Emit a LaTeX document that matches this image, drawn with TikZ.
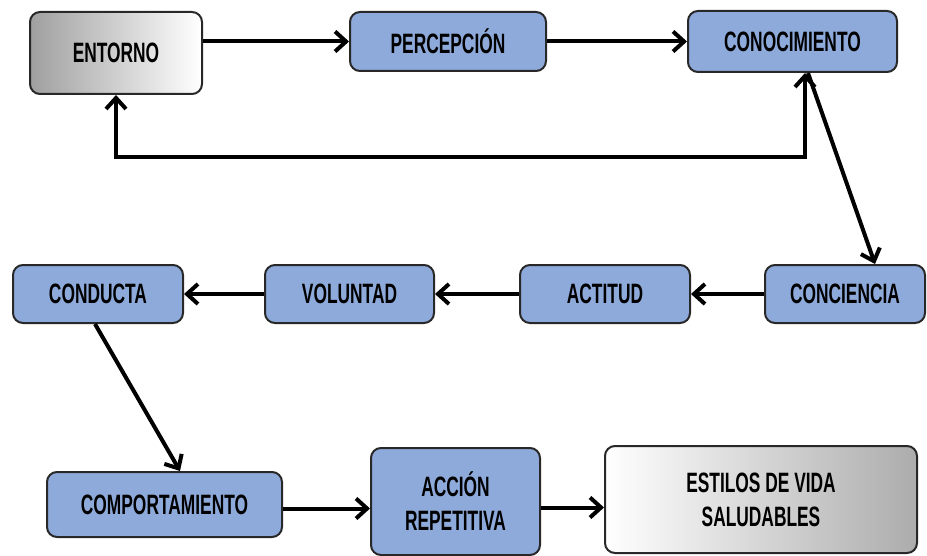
\documentclass[tikz,border=0pt]{standalone}
\usepackage{fontspec}
\setmainfont{Liberation Sans}[FakeStretch=0.62]
\usetikzlibrary{arrows.meta,calc}
\definecolor{BoxClr}{RGB}{142,170,219}
\definecolor{EdgeClr}{RGB}{40,40,40}

\tikzset{
  box/.style={draw=EdgeClr,line width=1pt,rounded corners=5pt,fill=BoxClr,
    align=center,font=\fontsize{14}{17}\selectfont\bfseries,inner sep=2pt},
  greybox/.style={box,fill=none},
  barb/.tip={Straight Barb[length=5.5pt,width=10pt,line width=2pt]},
  link/.style={line width=2pt,-barb},
}

\begin{document}
\begin{tikzpicture}[x=0.5pt,y=-0.5pt]
\useasboundingbox (0,0) rectangle (927,556);

% first row
\node[greybox,left color=gray!75,right color=white,minimum width=86pt,minimum height=41pt] (entorno) at (116,53) {ENTORNO};
\node[box,minimum width=98pt,minimum height=29.5pt] (percepcion) at (448,41.5) {PERCEPCIÓN};
\node[box,minimum width=104.5pt,minimum height=30.5pt] (conocimiento) at (792.5,41.5) {CONOCIMIENTO};

% second row
\node[box,minimum width=80pt,minimum height=29pt] (conciencia) at (845,294) {CONCIENCIA};
\node[box,minimum width=85pt,minimum height=29pt] (actitud) at (605,294) {ACTITUD};
\node[box,minimum width=84.5pt,minimum height=29pt] (voluntad) at (349.5,294) {VOLUNTAD};
\node[box,minimum width=85pt,minimum height=29pt] (conducta) at (98,294) {CONDUCTA};

% third row
\node[box,minimum width=117.5pt,minimum height=32.5pt] (comportamiento) at (164.5,504.5) {COMPORTAMIENTO};
\node[box,minimum width=84.5pt,minimum height=53.5pt] (accion) at (455.5,501.5) {ACCIÓN\\REPETITIVA};
\node[greybox,left color=white,right color=gray!65,minimum width=156pt,minimum height=53.5pt] (estilos) at (761,499.5) {ESTILOS DE VIDA\\SALUDABLES};

\coordinate (fb) at (805,157);

\draw[link] (entorno.east |- percepcion) -- (percepcion);
\draw[link] (percepcion) -- (conocimiento);
\draw[link,barb-barb] (entorno.south) |- (fb) -- (fb |- conocimiento.south);
\draw[link] ([xshift=7.75pt]conocimiento.south) -- ([xshift=15pt]conciencia.north);
\draw[link] (conciencia) -- (actitud);
\draw[link] (actitud) -- (voluntad);
\draw[link] (voluntad) -- (conducta);
\draw[link] ([xshift=-1.5pt]conducta.south) -- ([xshift=7.75pt]comportamiento.north);
\draw[link] ([yshift=-2pt]comportamiento.east) -- ([yshift=-2pt]comportamiento.east -| accion.west);
\draw[link] ([yshift=-3pt]accion.east) -- ([yshift=-3pt]accion.east -| estilos.west);

\end{tikzpicture}
\end{document}
